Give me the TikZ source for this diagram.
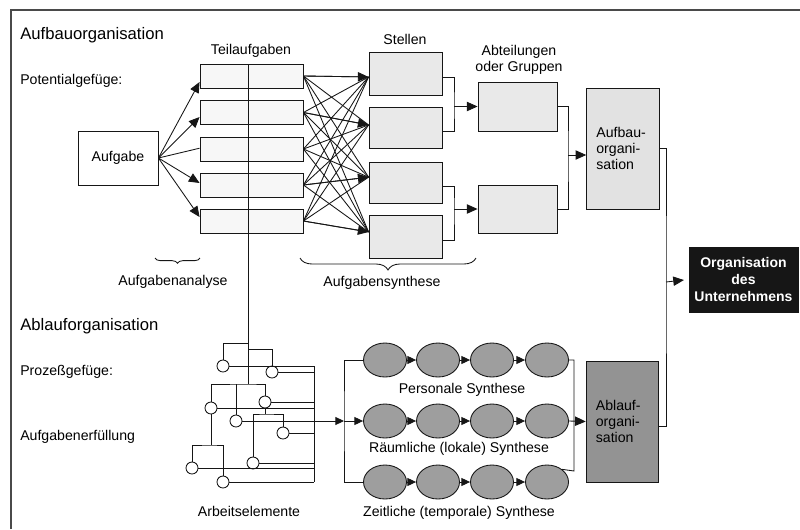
\documentclass[tikz,border=0pt]{standalone}
\usepackage{fontspec}
\setmainfont{Liberation Sans}
\usetikzlibrary{arrows.meta,shapes.geometric,decorations.pathreplacing}
\definecolor{linec}{HTML}{161616}
\definecolor{framec}{HTML}{4A4A4A}
\definecolor{stellefill}{HTML}{E9E9E9}
\definecolor{aufbaufill}{HTML}{E2E2E2}
\definecolor{ovalfill}{HTML}{9E9E9E}
\definecolor{ablauffill}{HTML}{939393}
\definecolor{orgfill}{HTML}{161616}
\begin{document}
\begin{tikzpicture}[x=0.75pt,y=-0.75pt,
  line/.style={draw=linec, line width=0.65pt},
  arr/.style={line, -{Triangle[length=8pt,width=7pt]}},
  smallarr/.style={line, -{Triangle[length=6.5pt,width=6pt]}},
  lbl/.style={font=\fontsize{10.6}{12.5}\selectfont, inner sep=0pt},
  head/.style={font=\fontsize{12.5}{14}\selectfont, inner sep=0pt, anchor=west},
  plainbox/.style={draw=linec, line width=0.65pt, fill=white, inner sep=0pt},
  teilbox/.style={plainbox, fill=white!97!black, minimum width=77.25pt, minimum height=18pt},
  stellebox/.style={plainbox, fill=stellefill, minimum width=54.75pt},
  abtbox/.style={plainbox, fill=stellefill, minimum width=59.25pt},
  bigbox/.style={plainbox, minimum width=54.5pt, minimum height=90.75pt,
    text width=40pt, align=left, font=\fontsize{10.6}{12}\selectfont},
  elem/.style={circle, draw=linec, line width=0.65pt, fill=white, minimum size=9pt, inner sep=0pt},
  oval/.style={ellipse, draw=linec, line width=0.65pt, fill=ovalfill, minimum width=32.25pt, minimum height=25.5pt, inner sep=0pt},
  bracelow/.style={line, decorate, decoration={brace, mirror, amplitude=#1}}
]
\useasboundingbox (0,0) rectangle (800,529);

% outer frame
\draw[draw=framec, line width=0.8pt] (11,529) -- (11,10) -- (800,10);

% ---------- Aufbauorganisation ----------
\node[head] (hAufbau) at (20,35) {Aufbauorganisation};
\node[lbl, anchor=west] (hPot) at (20,81) {Potentialgefüge:};
\node[lbl] (lTeil) at (251,51) {Teilaufgaben};
\node[lbl] (lStellen) at (405,39) {Stellen};
\node[lbl, align=center] (lAbt) at (519,60) {Abteilungen\\oder Gruppen};

\node[plainbox, minimum width=60pt, minimum height=40.5pt, font=\fontsize{10.6}{12}\selectfont] (auf) at (118,158) {Aufgabe};

\node[teilbox] (t1) at (251.5,76) {};
\node[teilbox] (t2) at (251.5,112.5) {};
\node[teilbox] (t3) at (251.5,149) {};
\node[teilbox] (t4) at (251.5,185) {};
\node[teilbox] (t5) at (251.5,221) {};

\node[stellebox, minimum height=32.25pt] (s1) at (405.5,73.5) {};
\node[stellebox, minimum height=30.75pt] (s2) at (405.5,127.5) {};
\node[stellebox, minimum height=30.75pt] (s3) at (405.5,182.5) {};
\node[stellebox, minimum height=32.25pt] (s4) at (405.5,236.5) {};

\node[abtbox, minimum height=36.75pt] (a1) at (517.5,106.5) {};
\node[abtbox, minimum height=36pt] (a2) at (517.5,209) {};

\node[bigbox, fill=aufbaufill] (ab) at (623,148.5) {Aufbau-\\organi-\\sation};

\node[plainbox, fill=orgfill, draw=orgfill, minimum width=81.75pt, minimum height=48.75pt,
  text=white, align=center, font=\fontsize{10.5}{12.4}\selectfont\bfseries] (org) at (743.5,279.5)
  {Organisation\\des\\Unternehmens};

% Aufgabe -> Teilaufgaben
\draw[arr] (auf.east) -- ([yshift=-4.5pt]t1.west);
\draw[arr] (auf.east) -- ([yshift=-3.4pt]t2.west);
\draw[line] (auf.east) -- ([yshift=0.6pt]t3.west);
\draw[arr] (auf.east) -- ([yshift=1.5pt]t4.west);
\draw[arr] (auf.east) -- ([yshift=3pt]t5.west);

% Teilaufgaben -> Stellen (every pair)
\coordinate (s1in) at ([yshift=-2.6pt]s1.west);
\coordinate (s2in) at ([yshift=1.9pt]s2.west);
\coordinate (s3in) at ([yshift=4pt]s3.west);
\coordinate (s4in) at ([yshift=3.4pt]s4.west);
\foreach \i in {1,...,5}
  \foreach \j in {1,...,4}
    \draw[line] (t\i.east) -- (s\j in);
\draw[arr] (t1.east) -- (s1in);
\draw[arr] (t2.east) -- (s2in);
\draw[arr] (t4.east) -- (s3in);
\draw[arr] (t5.east) -- (s4in);

% Stellen -> Abteilungen
\coordinate (j1) at (454,106.5);
\coordinate (j2) at (454,209);
\draw[line] ([yshift=-2.6pt]s1.east) -| (j1) |- ([yshift=-2.6pt]s2.east);
\draw[arr] (j1) -- (j1 -| a1.west);
\draw[line] ([yshift=-2.6pt]s3.east) -| (j2) |- ([yshift=-2.6pt]s4.east);
\draw[arr] (j2) -- (j2 -| a2.west);

% Abteilungen -> Aufbauorganisation
\coordinate (j3) at (568,155);
\draw[line] (a1.east) -| (j3) |- (a2.east);
\draw[arr] (j3) -- (j3 -| ab.west);

% braces
\draw[bracelow=4pt] (155,258) -- (200,258);
\node[lbl] (lAna) at (173,282) {Aufgabenanalyse};
\draw[bracelow=9pt] (300,258) -- (476,258);
\node[lbl] (lSyn) at (382,283) {Aufgabensynthese};

% ---------- Ablauforganisation ----------
\node[head] (hAblauf) at (20,326) {Ablauforganisation};
\node[lbl, anchor=west] (hProz) at (20,372) {Prozeßgefüge:};
\node[lbl, anchor=west] (hErf) at (20,437) {Aufgabenerfüllung};

% work elements
\node[elem] (e1) at (223,366) {};
\node[elem] (e2) at (272,372) {};
\node[elem] (e3) at (211,408) {};
\node[elem] (e4) at (236,421) {};
\node[elem] (e5) at (265,402) {};
\node[elem] (e6) at (283,433) {};
\node[elem] (e7) at (253,463) {};
\node[elem] (e8) at (192,468) {};
\node[elem] (e9) at (223,482) {};
\node[lbl] (lElem) at (249,511) {Arbeitselemente};

% task tree from the Teilaufgaben down to the work elements
\coordinate (rtop) at (248,64);
\coordinate (rbot) at (248,384);
\draw[line] (rtop) -- (rbot);
\draw[line] (248,343) -| (e1.north);
\draw[line] (248,349) -| (e2.north);
\draw[line] (e3.north) |- (rbot) -| (e5.north);
\draw[line] (236,384) -- (e4.north);
\draw[line] (e5.south) -- (265,414);
\draw[line] (e7.north) |- (265,414) -| (e6.north);
\draw[line] (e3.south) -- (211,445);
\draw[line] (e8.north) |- (211,445) -| (e9.north);

% collecting bus
\coordinate (bus1) at (314,366);
\coordinate (bus2) at (314,482);
\coordinate (bus) at (314,421);
\draw[line] (bus1) -- (bus2);
\foreach \e in {e1,e2,e3,e5,e6,e7,e8,e9}
  \draw[line] (\e.east) -- (\e.east -| bus1);
\draw[line] (e4.east) -- (bus);

% synthesis rows
\foreach \n/\x in {1/385,2/438,3/492,4/547} {
  \node[oval] (p\n) at (\x,360) {};
  \node[oval] (q\n) at (\x,421) {};
  \node[oval] (z\n) at (\x,482) {};
}
\foreach \r in {p,q,z} {
  \draw[smallarr] (\r1.east) -- (\r2.west);
  \draw[smallarr] (\r2.east) -- (\r3.west);
  \draw[smallarr] (\r3.east) -- (\r4.west);
}
\node[lbl] (lPers) at (462,390) {Personale Synthese};
\node[lbl] (lRaum) at (459,449) {Räumliche (lokale) Synthese};
\node[lbl] (lZeit) at (459,513) {Zeitliche (temporale) Synthese};

\coordinate (k) at (344,421);
\draw[smallarr] (bus) -- (k);
\draw[line] (p1.west) -| (k) |- (z1.west);
\draw[smallarr] (k) -- (q1.west);

\node[bigbox, fill=ablauffill] (al) at (622.5,421.5) {Ablauf-\\organi-\\sation};

\coordinate (rb) at (574,471);
\draw[line] (p4.east) -| (rb) -- (z4.40);
\draw[arr] (q4.east) -- (al.west);

% both organisations -> Organisation des Unternehmens
\coordinate (j4) at (666,282);
\draw[line] (ab.east) -| (j4) |- ([yshift=-4pt]al.east);
\draw[arr, shorten >=3.5pt] (j4) -- (org.west);
\end{tikzpicture}
\end{document}
